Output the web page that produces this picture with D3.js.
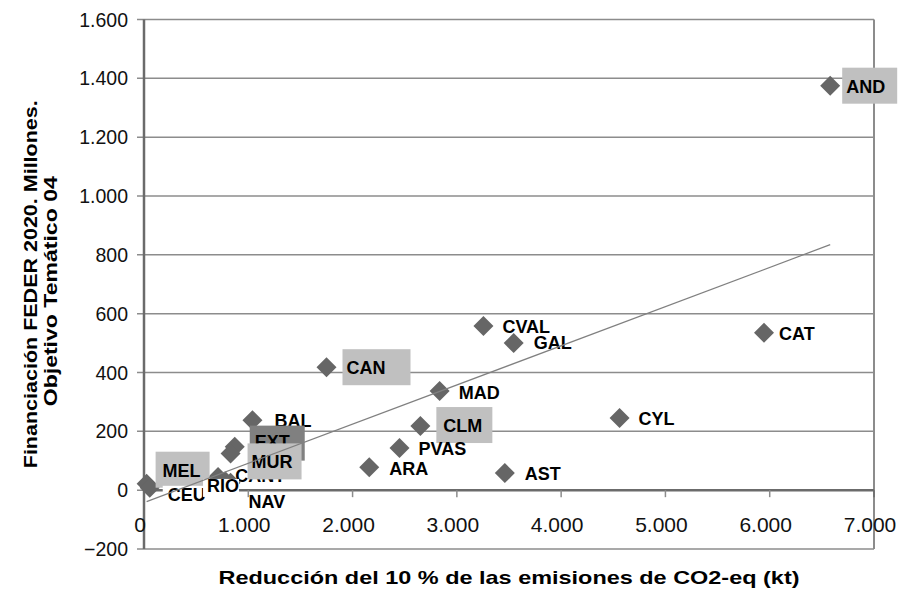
<!DOCTYPE html>
<html><head><meta charset="utf-8">
<script src="https://cdn.jsdelivr.net/npm/d3@7"></script>
<style>
html,body{margin:0;padding:0;background:#fff;}
text{font-family:"Liberation Sans",Arial,sans-serif;}
</style></head>
<body><svg id="chart" width="898" height="590"></svg>
<script>
// ---- data ----
const categories = ["AND","CAT","CYL","CVAL","GAL","CAN","MAD","CLM","PVAS","ARA","AST","BAL","EXT","MUR","RIO","CANT","NAV","MEL","CEU"];
const reduccion   = [6580,5945,4560,3255,3545,1750,2835,2650,2450,2160,3460,1040,870,830,710,780,830,25,55];
const financiacion= [1375,535,245,558,500,418,337,218,143,78,58,238,148,125,45,30,25,22,8];
const xTicks = [0,1000,2000,3000,4000,5000,6000,7000];
const xTickLabels = ["0","1.000","2.000","3.000","4.000","5.000","6.000","7.000"];
const yTicks = [-200,0,200,400,600,800,1000,1200,1400,1600];
const yTickLabels = ["\u2212200","0","200","400","600","800","1.000","1.200","1.400","1.600"];
const xTitle = "Reducción del 10 % de las emisiones de CO2-eq (kt)";
const yTitle = ["Financiación FEDER 2020. Millones.","Objetivo Temático 04"];

// ---- label placement (styling, not data) ----
const labelLayout = {
  AND:{dx:16,dy:7,box:"#c0c0c0",bw:55},
  CAT:{dx:15,dy:7}, CYL:{dx:19,dy:7}, CVAL:{dx:19,dy:7}, GAL:{dx:20,dy:6},
  CAN:{dx:20,dy:7,box:"#c0c0c0",bw:68}, MAD:{dx:19,dy:8},
  CLM:{dx:23,dy:6,box:"#c0c0c0",bw:56,bx:-7}, PVAS:{dx:19,dy:7}, ARA:{dx:20,dy:8}, AST:{dx:20,dy:7},
  BAL:{dx:22,dy:7}, EXT:{dx:20,dy:1,box:"#808080",bw:55,bx:-5,bt:-22,bb:13},
  CANT:{dx:10,dy:1}, MUR:{dx:21,dy:15,box:"#c0c0c0",bw:54},
  MEL:{dx:16,dy:-7,box:"#c0c0c0",bw:54,bx:-7},
  CEU:{dx:18,dy:13,box:"#fff",bw:57,bx:-5,bt:-15,bb:5},
  RIO:{dx:-11,dy:15,box:"#fff",bw:36,bx:-4,bt:-13,bb:5},
  NAV:{dx:18,dy:25}
};
const labelOrder = ["AND","CAT","CYL","CVAL","GAL","CAN","MAD","CLM","PVAS","ARA","AST","BAL","EXT","CANT","MUR","MEL","CEU","RIO","NAV"];

const svg = d3.select("#chart");
const L=144, R=874, T=19.5, B=549;
const x = d3.scaleLinear().domain([0,7000]).range([L,R]);
const y = d3.scaleLinear().domain([-200,1600]).range([B,T]);
const gridColor="#8c8c8c", axisColor="#6b6b6b";

// gridlines (with left tick stubs)
svg.append("g").selectAll("line").data(yTicks).join("line")
  .attr("x1",L-7).attr("x2",R).attr("y1",d=>y(d)).attr("y2",d=>y(d))
  .attr("stroke",gridColor).attr("stroke-width",1.5);
// right border
svg.append("line").attr("x1",R).attr("x2",R).attr("y1",T).attr("y2",B)
  .attr("stroke",gridColor).attr("stroke-width",2);
// y axis line
svg.append("line").attr("x1",L).attr("x2",L).attr("y1",T).attr("y2",B)
  .attr("stroke",axisColor).attr("stroke-width",2.5);
// x axis at 0
svg.append("line").attr("x1",L).attr("x2",R).attr("y1",y(0)).attr("y2",y(0))
  .attr("stroke",axisColor).attr("stroke-width",2.5);
svg.append("g").selectAll("line").data(xTicks.slice(1)).join("line")
  .attr("x1",d=>x(d)).attr("x2",d=>x(d)).attr("y1",y(0)).attr("y2",y(0)+7)
  .attr("stroke",d=>d===7000?axisColor:gridColor).attr("stroke-width",1.5);

// tick labels
svg.append("g").selectAll("text").data(yTicks).join("text")
  .attr("x",128).attr("y",d=>y(d)).attr("dy","0.36em")
  .attr("text-anchor","end").attr("font-size",19.5).attr("fill","#111")
  .text((d,i)=>yTickLabels[i]);
svg.append("g").selectAll("text").data(xTicks).join("text")
  .attr("x",d=>x(d)-4).attr("y",532)
  .attr("text-anchor","middle").attr("font-size",21).attr("fill","#111")
  .text((d,i)=>xTickLabels[i]);

// points
const pts = categories.map((c,i)=>({c, vx:reduccion[i], vy:financiacion[i]}));
svg.append("g").selectAll("path").data(pts).join("path")
  .attr("d", d3.symbol(d3.symbolSquare, 200)())
  .attr("transform", d=>`translate(${x(d.vx)},${y(d.vy)}) rotate(45)`)
  .attr("fill","#666");

// labels
const byCat = Object.fromEntries(pts.map(p=>[p.c,p]));
const lg = svg.append("g");
labelOrder.forEach(c=>{
  const p = byCat[c], s = labelLayout[c];
  const tx = x(p.vx)+s.dx, ty = y(p.vy)+s.dy;
  if (s.box){
    const bx = s.bx ?? -4, bt = s.bt ?? -25, bb = s.bb ?? 11;
    lg.append("rect").attr("x",tx+bx).attr("y",ty+bt).attr("width",s.bw).attr("height",bb-bt).attr("fill",s.box);
  }
  lg.append("text").attr("x",tx).attr("y",ty).attr("font-size",18).attr("font-weight","bold").attr("fill","#000").text(c);
});

// linear trendline (least squares)
const mx = d3.mean(reduccion), my = d3.mean(financiacion);
const slope = d3.sum(pts,p=>(p.vx-mx)*(p.vy-my))/d3.sum(pts,p=>(p.vx-mx)**2);
const icpt = my - slope*mx;
const [x0,x1] = d3.extent(reduccion);
svg.append("line").attr("x1",x(x0)).attr("y1",y(slope*x0+icpt)).attr("x2",x(x1)).attr("y2",y(slope*x1+icpt))
  .attr("stroke","#808080").attr("stroke-width",1.2);

// axis titles
svg.append("text").attr("x",(L+R)/2).attr("y",584).attr("text-anchor","middle")
  .attr("font-size",19).attr("font-weight","bold").attr("textLength",581).attr("lengthAdjust","spacingAndGlyphs").text(xTitle);
const cy = (T+B)/2;
svg.append("text").attr("transform",`translate(37,${cy}) rotate(-90)`).attr("text-anchor","middle")
  .attr("font-size",19).attr("font-weight","bold").attr("textLength",368).attr("lengthAdjust","spacingAndGlyphs").text(yTitle[0]);
svg.append("text").attr("transform",`translate(57,${cy+7}) rotate(-90)`).attr("text-anchor","middle")
  .attr("font-size",19).attr("font-weight","bold").attr("textLength",230).attr("lengthAdjust","spacingAndGlyphs").text(yTitle[1]);
</script></body></html>
